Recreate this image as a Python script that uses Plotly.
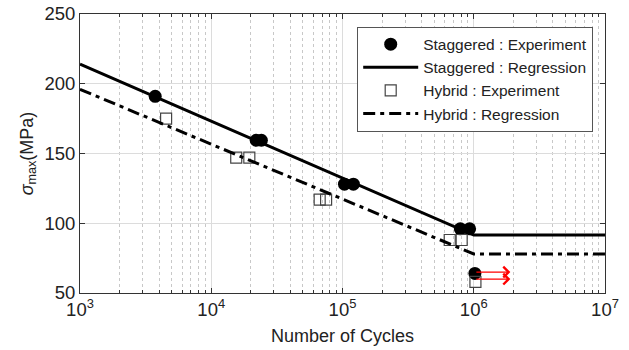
import math
import plotly.graph_objects as go

# Data
stag_x = [3740, 22000, 24100, 103500, 121000, 790000, 930000, 1020000]
stag_y = [191, 159.5, 159.5, 128, 128, 96, 96, 64]
hyb_x = [4530, 15500, 19500, 67000, 75000, 656000, 809000, 1030000]
hyb_y = [175, 147, 147, 117, 117, 88, 88, 58]
reg_x = [1e3, 1e6, 1e7]
stag_reg_y = [214, 91.5, 91.5]
hyb_reg_y = [196, 78, 78]
arrow_x0 = [1.02e6, 1.02e6]
arrow_x1 = [1.9e6, 1.9e6]
arrow_y = [65, 60]
xtick_vals = [1e3, 1e4, 1e5, 1e6, 1e7]
xtick_text = ["10<sup>3</sup>", "10<sup>4</sup>", "10<sup>5</sup>", "10<sup>6</sup>", "10<sup>7</sup>"]
ytick_vals = [50, 100, 150, 200, 250]
minor_x_ticks = [m * 10 ** e for e in range(3, 7) for m in range(2, 10)]

FONT = "Liberation Sans, Arial, sans-serif"

fig = go.Figure()
fig.add_trace(go.Scatter(x=stag_x, y=stag_y, mode="markers", name="Staggered : Experiment",
                         marker=dict(symbol="circle", size=13, color="black")))
fig.add_trace(go.Scatter(x=reg_x, y=stag_reg_y, mode="lines", name="Staggered : Regression",
                         line=dict(color="black", width=3)))
fig.add_trace(go.Scatter(x=hyb_x, y=hyb_y, mode="markers", name="Hybrid : Experiment",
                         marker=dict(symbol="square-open", size=11, color="#444", line=dict(width=1.2))))
fig.add_trace(go.Scatter(x=reg_x, y=hyb_reg_y, mode="lines", name="Hybrid : Regression",
                         line=dict(color="black", width=3, dash="12px,5px,4px,5px")))

for x0, x1, y in zip(arrow_x0, arrow_x1, arrow_y):
    fig.add_annotation(x=math.log10(x1), y=y, ax=math.log10(x0), ay=y,
                       xref="x", yref="y", axref="x", ayref="y",
                       text="", showarrow=True, arrowhead=4, arrowsize=1.6,
                       arrowwidth=1.3, arrowcolor="red")

fig.update_xaxes(type="log", range=[3, 7], tickmode="array", tickvals=xtick_vals, ticktext=xtick_text,
                 showline=True, linecolor="#333", linewidth=1, mirror="ticks",
                 ticks="inside", ticklen=5, tickcolor="#333",
                 showgrid=True, gridcolor="#dcdcdc", gridwidth=1,
                 minor=dict(tickmode="array", tickvals=minor_x_ticks,
                            ticks="inside", ticklen=3, tickcolor="#333",
                            showgrid=True, gridcolor="#c8c8c8", griddash="dot", gridwidth=1),
                 tickfont=dict(size=18.5, family=FONT, color="#222"),
                 title=dict(text="Number of Cycles", font=dict(size=18, family=FONT, color="#222"), standoff=10),
                 zeroline=False, automargin=False)
fig.update_yaxes(range=[50, 250], tickvals=ytick_vals,
                 showline=True, linecolor="#333", linewidth=1, mirror="ticks",
                 ticks="inside", ticklen=5, tickcolor="#333",
                 showgrid=True, gridcolor="#dcdcdc", gridwidth=1,
                 tickfont=dict(size=18.5, family=FONT, color="#222"),
                 title=dict(text="<i>σ</i><sub>max</sub>(MPa)", font=dict(size=18, family=FONT, color="#222"), standoff=6),
                 zeroline=False, automargin=False)

fig.update_layout(width=629, height=350, margin=dict(l=80, r=24, t=14, b=57),
                  paper_bgcolor="white", plot_bgcolor="white",
                  showlegend=True,
                  legend=dict(x=0.528, y=0.955, xanchor="left", yanchor="top",
                              bgcolor="white", bordercolor="#555", borderwidth=1,
                              font=dict(size=15.5, family=FONT, color="#222"),
                              tracegroupgap=0, itemwidth=55))

fig.write_html("out.html")
